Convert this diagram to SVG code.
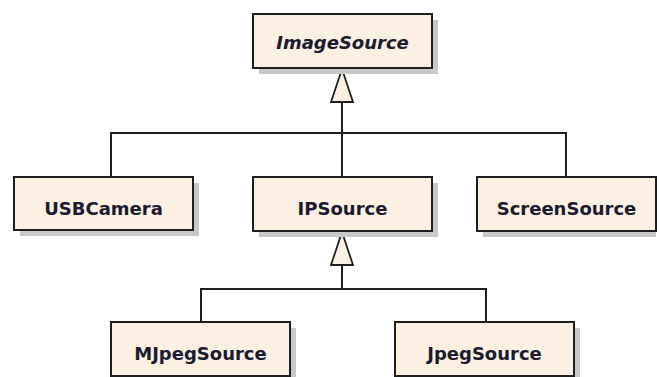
<svg xmlns="http://www.w3.org/2000/svg" width="659" height="377" viewBox="0 0 659 377">
  <style>
    .shadow { fill: #c8c8c8; }
    .box { fill: #fbf0e2; stroke: #1e1e1e; stroke-width: 2; }
    .label { font-family: "DejaVu Sans", "Liberation Sans", sans-serif; font-weight: bold; font-size: 18px; fill: #1a1a30; text-anchor: middle; }
    .abstract { font-style: italic; }
    .edge { fill: none; stroke: #1e1e1e; stroke-width: 2; }
    .head { fill: #fbf0e2; stroke: #1e1e1e; stroke-width: 1.8; stroke-linejoin: miter; }
  </style>
  <rect width="659" height="377" fill="#ffffff"/>

  <!-- inheritance connectors -->
  <g id="connectors">
    <path class="edge" d="M342 102 V177 M111 177 V133 H566 V177"/>
    <polygon class="head" points="342,69 353,102 331,102"/>
    <path class="edge" d="M342 265 V289 M201 322 V289 H486 V322"/>
    <polygon class="head" points="342,232 353,265 331,265"/>
  </g>

  <g id="ImageSource">
    <rect class="shadow" x="259" y="20" width="179" height="54"/>
    <rect class="box" x="253" y="14" width="179" height="54"/>
    <text class="label abstract" x="342.5" y="49">ImageSource</text>
  </g>

  <g id="USBCamera">
    <rect class="shadow" x="20" y="183" width="179" height="53"/>
    <rect class="box" x="14" y="177" width="179" height="53"/>
    <text class="label" x="103.5" y="215">USBCamera</text>
  </g>

  <g id="IPSource">
    <rect class="shadow" x="259" y="183" width="179" height="54"/>
    <rect class="box" x="253" y="177" width="179" height="54"/>
    <text class="label" x="342.5" y="215">IPSource</text>
  </g>

  <g id="ScreenSource">
    <rect class="shadow" x="483" y="183" width="173" height="54"/>
    <rect class="box" x="477" y="177" width="179" height="54"/>
    <text class="label" x="566.5" y="215">ScreenSource</text>
  </g>

  <g id="MJpegSource">
    <rect class="shadow" x="117" y="328" width="179" height="54"/>
    <rect class="box" x="111" y="322" width="179" height="54"/>
    <text class="label" x="200.5" y="360">MJpegSource</text>
  </g>

  <g id="JpegSource">
    <rect class="shadow" x="401" y="328" width="179" height="54"/>
    <rect class="box" x="395" y="322" width="179" height="54"/>
    <text class="label" x="484.5" y="360">JpegSource</text>
  </g>
</svg>
